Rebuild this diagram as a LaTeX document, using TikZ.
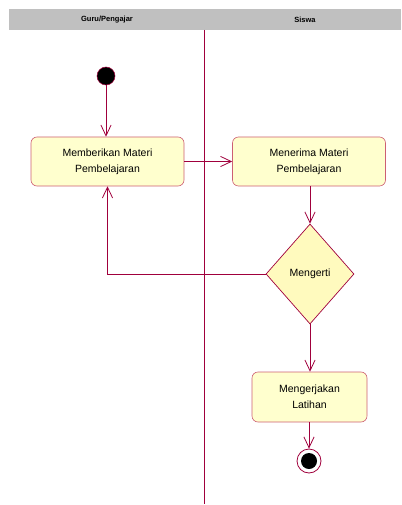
\documentclass[tikz,border=0pt]{standalone}
\usepackage{fontspec}
\setmainfont{Liberation Sans}
\usepackage{tikz}
\usetikzlibrary{shapes.geometric}
\usetikzlibrary{arrows.meta}
\definecolor{umlline}{RGB}{160,0,60}
\definecolor{boxedge}{RGB}{205,95,115}
\definecolor{boxfill}{RGB}{255,255,206}
\definecolor{decfill}{RGB}{255,250,190}
\definecolor{headgray}{RGB}{192,192,192}
\tikzset{>={Straight Barb[length=3.8mm,width=3.6mm]}}

\begin{document}
\begin{tikzpicture}[x=1pt, y=-1pt]
\tikzset{activity/.style={draw=boxedge, fill=boxfill, line width=0.6pt, rounded corners=6pt, minimum width=153pt, minimum height=49pt, align=center, font=\fontsize{10.5}{16}\selectfont}}
\tikzset{decision/.style={diamond, draw=umlline, fill=decfill, line width=0.7pt, minimum width=88pt, minimum height=100pt, inner sep=0pt, aspect=0.88, font=\fontsize{10.5}{12}\selectfont}}
\tikzset{flow/.style={draw=umlline, line width=0.8pt, ->}}
\tikzset{lanehead/.style={font=\fontsize{7.5}{8}\selectfont\bfseries}}
    \useasboundingbox (0,0) rectangle (401,505);

    % swimlanes
    \fill[headgray] (9,9) rectangle (401,30);
    \node[lanehead] (guru) at (107,20) {Guru/Pengajar};
    \node[lanehead] (siswa) at (305,20) {Siswa};
    \draw[umlline, line width=0.8pt] (204,30) -- (204,504);

    % activities
    \node[circle, fill=black, draw=umlline, line width=0.5pt, minimum size=18pt, inner sep=0pt] (start) at (106,76) {};
    \node[activity] (beri) at (107.5,161.5) {Memberikan Materi\\Pembelajaran};
    \node[activity] (terima) at (309,161.5) {Menerima Materi\\Pembelajaran};
    \node[decision] (cek) at (310,274) {Mengerti};
    \node[activity, minimum width=115pt, minimum height=50pt] (latih) at (309.5,397) {Mengerjakan\\Latihan};
    \node[circle, draw=umlline, fill=white, line width=0.8pt, minimum size=24pt, inner sep=0pt] (stop) at (309,461) {};
    \node[circle, fill=black, minimum size=16pt, inner sep=0pt] (stopdot) at (stop) {};
% % % % % % % % % % % % % % % % % % %
    \draw[flow] (start) -- (beri.north -| start);
    \draw[flow] (beri) -- (terima);
    \draw[flow] (terima.south -| cek) -- (cek.north);
    \draw[flow] (cek.west) -| (beri.south);
    \draw[flow] (cek.south) -- (latih.north -| cek);
    \draw[flow] (latih.south -| stop) -- (stop.north);
\end{tikzpicture}
\end{document}
